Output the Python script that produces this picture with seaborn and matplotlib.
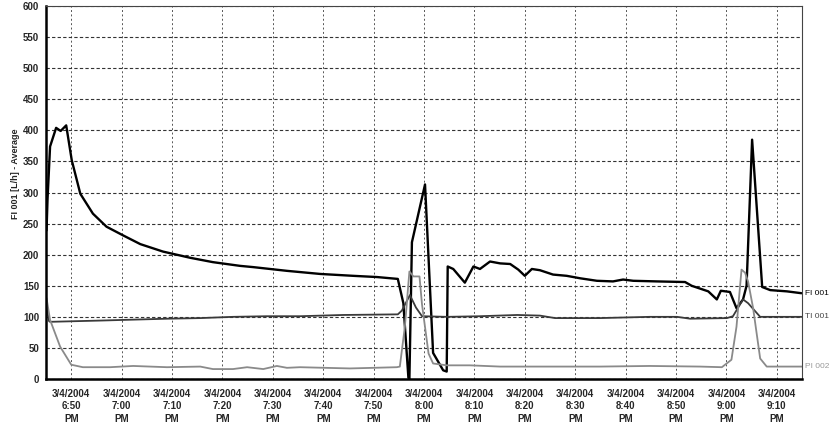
import numpy as np
import pandas as pd
import seaborn as sns
import matplotlib.pyplot as plt
from matplotlib.ticker import MultipleLocator

# minutes after 6:45 PM on 3/4/2004, values
fi_min = [0.1, 0.3, 0.8, 2.0, 2.9, 4.0, 5.1, 6.8, 9.3, 12.0, 15.3, 18.7, 23.2, 28.6,
          33.1, 38.5, 41.1, 47.8, 54.4, 60.9, 65.7, 69.8, 70.9, 71.9, 72.1, 72.6, 75.2,
          76.8, 78.8, 79.5, 79.7, 80.8, 83.1, 84.8, 86.1, 88.1, 90.1, 92.1, 93.7, 95.0,
          96.4, 98.0, 100.6, 103.3, 106.0, 109.3, 112.5, 114.5, 116.5, 121.2, 126.8,
          128.1, 131.4, 133.1, 133.9, 135.7, 137.0, 138.3, 139.0, 140.1, 142.1, 143.7,
          147.0, 149.9]
fi_val = [239, 290, 374, 404, 399, 408, 352, 298, 266, 245, 231, 217, 205, 195,
          188, 182, 180, 174, 169, 166, 164, 161, 122, 2, 0, 220, 313,
          42, 14, 12, 181, 177, 155, 181, 177, 189, 186, 185, 176, 166,
          177, 175, 168, 166, 162, 158, 157, 160, 158, 157, 156,
          150, 141, 128, 142, 140, 114, 128, 150, 385, 148, 143,
          141, 138]

ti_min = [0.0, 0.2, 0.6, 0.8, 10.7, 15.1, 24.0, 30.6, 37.1, 43.8, 50.4, 58.9, 69.8,
          70.6, 72.2, 73.4, 74.6, 79.6, 86.1, 93.5, 98.0, 101.0, 109.9, 119.8, 125.2,
          127.8, 135.1, 136.3, 138.3, 139.3, 141.7, 150.0]
ti_val = [128, 110, 93, 92, 94, 95, 97, 98, 100, 101, 101, 103, 104,
          110, 135, 115, 101, 100, 101, 103, 102, 98, 98, 100, 100,
          97, 98, 101, 128, 122, 100, 100]

pi_min = [0.1, 0.8, 2.8, 5.0, 7.3, 12.7, 17.3, 24.0, 30.6, 33.1, 37.1, 39.9, 43.1,
          45.8, 47.8, 50.4, 60.3, 69.6, 70.2, 71.2, 72.1, 72.9, 74.1, 74.6, 75.9,
          76.8, 79.5, 84.1, 90.1, 100.0, 109.9, 119.8, 129.8, 134.1, 136.0, 137.0,
          138.0, 138.7, 139.3, 140.3, 141.7, 143.0, 150.0]
pi_val = [130, 95, 52, 23, 19, 19, 21, 19, 20, 16, 16, 19, 16,
          21, 18, 19, 17, 19, 20, 84, 173, 165, 165, 120, 41,
          25, 22, 22, 20, 20, 20, 21, 20, 19, 31, 84,
          176, 171, 157, 114, 33, 20, 20]

tick_min = [5, 15, 25, 35, 45, 55, 65, 75, 85, 95, 105, 115, 125, 135, 145]
tick_time = ["6:50", "7:00", "7:10", "7:20", "7:30", "7:40", "7:50", "8:00",
             "8:10", "8:20", "8:30", "8:40", "8:50", "9:00", "9:10"]
tick_labels = ["3/4/2004\n" + t + "\nPM" for t in tick_time]

series = [("FI 001", fi_min, fi_val, "#000000", 1.7, "#000000"),
          ("TI 001", ti_min, ti_val, "#3a3a3a", 1.3, "#444444"),
          ("PI 002", pi_min, pi_val, "#8a8a8a", 1.3, "#999999")]

sns.set_style("white")
plt.rcParams['font.family'] = ['Liberation Sans', 'DejaVu Sans']

fig = plt.figure(figsize=(8.31, 4.26), dpi=100)
ax = fig.add_axes([0.0554, 0.1103, 0.9097, 0.8756])

for name, xs, ys, color, lw, lab_color in series:
    df = pd.DataFrame({"minute": xs, "value": ys})
    sns.lineplot(data=df, x="minute", y="value", ax=ax, color=color,
                 linewidth=lw, estimator=None, sort=False)
    ax.text(1.004, ys[-1], name, transform=ax.get_yaxis_transform(),
            fontsize=6, color=lab_color, va="center", ha="left", clip_on=False)

ax.set_xlim(0, 150)
ax.set_ylim(0, 600)

ax.set_xticks(tick_min)
ax.set_xticklabels(tick_labels, fontsize=7, fontweight="bold", linespacing=1.3)
ax.xaxis.set_minor_locator(MultipleLocator(10 / 3))
ax.yaxis.set_major_locator(MultipleLocator(50))
ax.yaxis.set_minor_locator(MultipleLocator(10))
for lab in ax.get_yticklabels():
    lab.set_fontsize(7)
    lab.set_fontweight("bold")

ax.tick_params(axis="both", which="major", direction="out", length=3, width=0.8,
               color="#222222", pad=2)
ax.tick_params(axis="x", which="major", pad=4)
ax.tick_params(axis="both", which="minor", direction="out", length=2, width=0.6,
               color="#444444")

ax.grid(axis="y", which="major", color="#333333", linestyle=(0, (3, 2)), linewidth=0.8)
ax.grid(axis="x", which="major", color="#555555", linestyle=(0, (2, 2.5)), linewidth=0.7)

ax.set_xlabel("")
ax.set_ylabel("FI 001 [L/h] - Average", fontsize=6.5, fontweight="bold")
ax.yaxis.set_label_coords(-0.034, 0.55)

for side in ["left", "bottom"]:
    ax.spines[side].set_linewidth(1.8)
    ax.spines[side].set_color("#000000")
for side in ["top", "right"]:
    ax.spines[side].set_linewidth(0.8)
    ax.spines[side].set_color("#444444")

plt.savefig("out.png", dpi=100)
